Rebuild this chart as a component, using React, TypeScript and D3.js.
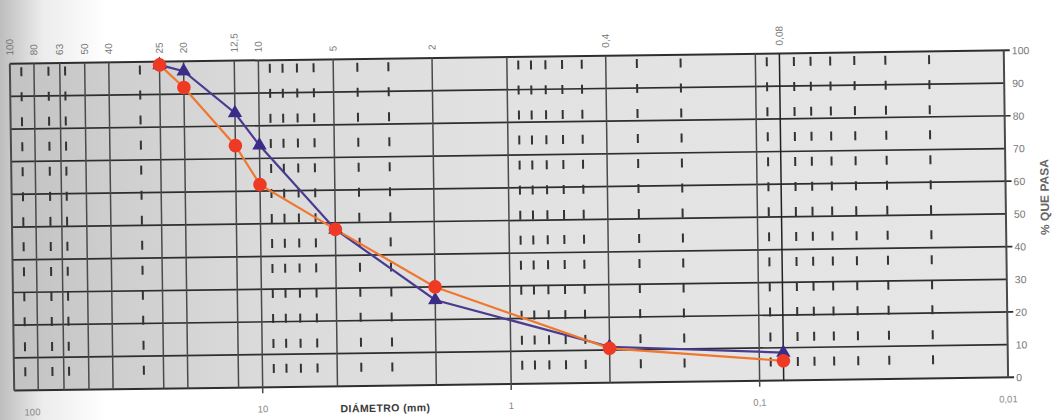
import React from "react";
import * as d3 from "d3";

// sieve sizes (mm) and % passing for the two gradings
const diameters = [25, 20, 12.5, 10, 5, 2, 0.4, 0.08];
const passPurple = [99, 97, 84, 74, 48, 26, 11, 8.5];
const passRed = [99, 92, 74, 62, 48, 30, 10.5, 6];

// full vertical lines of the paper
const gridSizes = [100, 80, 63, 50, 40, 25, 20, 12.5, 10, 5, 2, 1, 0.4, 0.1, 0.08, 0.01];
const topSizes = [100, 80, 63, 50, 40, 25, 20, 12.5, 10, 5, 2, 0.4, 0.08];
const topLabels = ["100", "80", "63", "50", "40", "25", "20", "12,5", "10", "5", "2", "0,4", "0,08"];
const bottomSizes = [100, 10, 1, 0.1, 0.01];
const bottomLabels = ["100", "10", "1", "0,1", "0,01"];
const decadeSizes = [10, 1, 0.1];
// short dashed marks between the lines
const minorSizes = [90, 70, 60, 30, 9, 8, 7, 6, 4, 3, 0.9, 0.8, 0.7, 0.6, 0.5, 0.3, 0.2, 0.09, 0.07, 0.06, 0.05, 0.04, 0.03, 0.02];

const W = 1060;
const H = 420;
const left = 12;
const right = 1006;
const top = 57;
const bottom = 384;
const font = "'Liberation Sans', Arial, sans-serif";

export default function App() {
  const x = d3.scaleLog().domain([100, 0.01]).range([left, right]);
  const y = d3.scaleLinear().domain([0, 100]).range([bottom, top]);
  const yTicks = y.ticks(10);
  const dashLevels = d3.range(13).map((k) => 97.5 - k * 7.65);

  const line = d3
    .line<number>()
    .x((_, i) => x(diameters[i]))
    .y((d) => y(d));
  const tri = d3.symbol().type(d3.symbolTriangle).size(90)();

  return (
    <svg
      width={W}
      height={H}
      viewBox={`0 0 ${W} ${H}`}
      style={{ position: "absolute", left: 0, top: 0, display: "block" }}
    >
      <defs>
        <linearGradient id="paper" x1="0" x2="1" y1="0" y2="0">
          <stop offset="0" stopColor="#bdbdbd" />
          <stop offset="0.04" stopColor="#ececec" />
          <stop offset="0.1" stopColor="#ffffff" />
          <stop offset="1" stopColor="#ffffff" />
        </linearGradient>
        <linearGradient id="plotFill" x1="0" x2="1" y1="0" y2="0">
          <stop offset="0" stopColor="#c2c2c2" />
          <stop offset="0.1" stopColor="#cecece" />
          <stop offset="0.24" stopColor="#dadada" />
          <stop offset="0.5" stopColor="#e2e2e2" />
          <stop offset="1" stopColor="#e6e6e6" />
        </linearGradient>
      </defs>
      <rect width={W} height={H} fill="url(#paper)" />
      <g transform="rotate(-0.76 511 222)">
        <rect x={left} y={top} width={right - left} height={bottom - top} fill="url(#plotFill)" />

        {/* horizontal grid */}
        {yTicks.map((t) => (
          <line
            key={"h" + t}
            x1={left}
            x2={t % 20 === 0 ? right + 6 : right}
            y1={y(t)}
            y2={y(t)}
            stroke="#2e2e2e"
            strokeWidth={t === 100 || t === 0 ? 2 : 1.7}
          />
        ))}

        {/* vertical lines */}
        {gridSizes.map((d) => (
          <line
            key={"v" + d}
            x1={x(d)}
            x2={x(d)}
            y1={top}
            y2={decadeSizes.includes(d) ? bottom + 6 : bottom}
            stroke={d === 0.08 ? "#222" : "#4a4a4a"}
            strokeWidth={d === 100 || d === 0.01 ? 2 : 1.5}
          />
        ))}

        {/* minor dashes */}
        {minorSizes.map((d) =>
          dashLevels.map((lv) => (
            <line
              key={"m" + d + "-" + lv}
              x1={x(d)}
              x2={x(d)}
              y1={y(lv) - 4.5}
              y2={y(lv) + 4.5}
              stroke="#333"
              strokeWidth={2}
            />
          ))
        )}

        {/* top sieve labels */}
        {topSizes.map((d, i) => (
          <text
            key={"t" + d}
            transform={`translate(${x(d) + 3.5},${top - 8}) rotate(-90)`}
            fontSize={10}
            fontFamily={font}
            fill="#777"
          >
            {topLabels[i]}
          </text>
        ))}

        {/* bottom diameter labels */}
        {bottomSizes.map((d, i) => (
          <text
            key={"b" + d}
            x={x(d) + (i === 0 ? 18 : 0)}
            y={bottom + 25}
            fontSize={9.5}
            fontFamily={font}
            fill="#888"
            textAnchor="middle"
          >
            {bottomLabels[i]}
          </text>
        ))}
        <text
          x={383}
          y={bottom + 26}
          fontSize={10.5}
          fontWeight={700}
          fontFamily={font}
          fill="#3a3a3a"
          textAnchor="middle"
          letterSpacing={0.4}
        >
          DIÁMETRO (mm)
        </text>

        {/* right axis */}
        {yTicks.map((t) => (
          <text
            key={"y" + t}
            x={right + 8}
            y={y(t) + 4}
            fontSize={10.5}
            fontFamily={font}
            fill="#777"
          >
            {t}
          </text>
        ))}
        <text
          transform={`translate(${right + 43},${y(55)}) rotate(-90)`}
          fontSize={12}
          fontWeight={700}
          fontFamily={font}
          fill="#666"
          textAnchor="middle"
        >
          % QUE PASA
        </text>

        {/* series */}
        <path d={line(passPurple) || ""} fill="none" stroke="#4b3a90" strokeWidth={2.2} />
        <path d={line(passRed) || ""} fill="none" stroke="#f0772e" strokeWidth={2.2} />
        {passPurple.map((v, i) => (
          <path
            key={"p" + i}
            d={tri || ""}
            transform={`translate(${x(diameters[i])},${y(v)})`}
            fill="#3b2d87"
          />
        ))}
        {passRed.map((v, i) => (
          <circle key={"r" + i} cx={x(diameters[i])} cy={y(v)} r={6.8} fill="#ee3a24" />
        ))}
      </g>
    </svg>
  );
}
